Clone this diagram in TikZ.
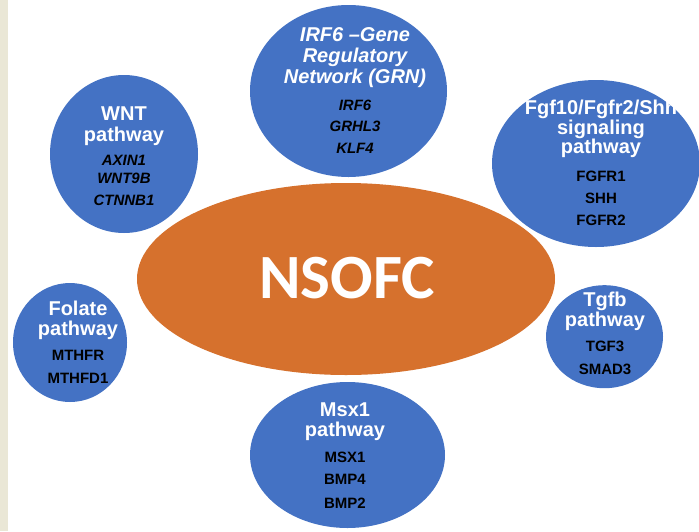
\documentclass[tikz,border=0pt]{standalone}
\usepackage{fontspec}
\setmainfont{Liberation Sans}
\newfontfamily\calfont{Carlito}
\usetikzlibrary{shapes.geometric}
\definecolor{pblue}{RGB}{68,114,196}
\definecolor{porange}{RGB}{214,113,45}
\definecolor{stripc}{RGB}{234,231,214}
\begin{document}
\begin{tikzpicture}[x=1pt,y=-1pt,
  blob/.style={ellipse, fill=pblue, draw=none, inner sep=0pt},
  core/.style={ellipse, fill=porange, draw=none, inner sep=0pt},
  ttl/.style={text=white, font=\fontsize{20}{22}\selectfont\bfseries, anchor=base, inner sep=0pt},
  ttli/.style={ttl, font=\fontsize{20}{22}\selectfont\bfseries\itshape},
  gene/.style={text=black, font=\fontsize{15}{17}\selectfont\bfseries, anchor=base, inner sep=0pt},
  genei/.style={gene, font=\fontsize{15}{17}\selectfont\bfseries\itshape},
]
\useasboundingbox (0,0) rectangle (699,531);
\fill[white] (0,0) rectangle (699,531);
\fill[stripc] (0,0) rectangle (8,531);

% central ellipse
\node[core, minimum width=418pt, minimum height=192pt] (core) at (346,279) {};
\node[text=white, font=\calfont\bfseries\fontsize{63}{63}\selectfont, anchor=base, inner sep=0pt] (coreT) at (347,298) {NSOFC};

% IRF6 GRN
\node[blob, minimum width=197pt, minimum height=172pt] (irf) at (348.5,91) {};
\node[ttli] (irfT1) at (355,41.7) {IRF6 –Gene};
\node[ttli] (irfT2) at (355,62) {Regulatory};
\node[ttli] (irfT3) at (355,83) {Network (GRN)};
\node[genei] (irfG1) at (355,110) {IRF6};
\node[genei] (irfG2) at (355,131.7) {GRHL3};
\node[genei] (irfG3) at (355,153) {KLF4};

% WNT
\node[blob, minimum width=148pt, minimum height=158pt] (wnt) at (124,154) {};
\node[ttl] (wntT1) at (124,120) {WNT};
\node[ttl] (wntT2) at (124,141.7) {pathway};
\node[genei] (wntG1) at (124,165.7) {AXIN1};
\node[genei] (wntG2) at (124,183.3) {WNT9B};
\node[genei] (wntG3) at (124,205) {CTNNB1};

% Fgf10
\node[blob, minimum width=208pt, minimum height=167pt] (fgf) at (596,163.5) {};
\node[ttl] (fgfT1) at (601,114.3) {Fgf10/Fgfr2/Shh};
\node[ttl] (fgfT2) at (601,134) {signaling};
\node[ttl] (fgfT3) at (601,153) {pathway};
\node[gene] (fgfG1) at (601,181.7) {FGFR1};
\node[gene] (fgfG2) at (601,203) {SHH};
\node[gene] (fgfG3) at (601,225) {FGFR2};

% Folate
\node[blob, minimum width=114pt, minimum height=119pt] (fol) at (70,342.5) {};
\node[ttl] (folT1) at (78,315.5) {Folate};
\node[ttl] (folT2) at (78,335) {pathway};
\node[gene] (folG1) at (78,360.7) {MTHFR};
\node[gene] (folG2) at (78,383) {MTHFD1};

% Tgfb
\node[blob, minimum width=117pt, minimum height=103pt] (tgf) at (604.5,336.7) {};
\node[ttl] (tgfT1) at (605,306.7) {Tgfb};
\node[ttl] (tgfT2) at (605,326.7) {pathway};
\node[gene] (tgfG1) at (605,351.7) {TGF3};
\node[gene] (tgfG2) at (605,374) {SMAD3};

% Msx1
\node[blob, minimum width=195pt, minimum height=146pt] (msx) at (347.5,455) {};
\node[ttl] (msxT1) at (345,416.7) {Msx1};
\node[ttl] (msxT2) at (345,436.7) {pathway};
\node[gene] (msxG1) at (345,462.3) {MSX1};
\node[gene] (msxG2) at (345,484) {BMP4};
\node[gene] (msxG3) at (345,508) {BMP2};
\end{tikzpicture}
\end{document}
